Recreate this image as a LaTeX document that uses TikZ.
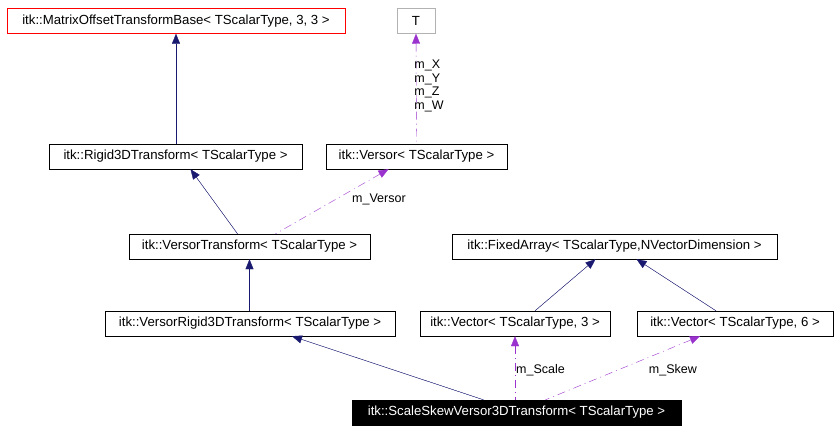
\documentclass[tikz,border=0pt]{standalone}
\usepackage{fontspec}
\setmainfont{Liberation Sans}
\usetikzlibrary{arrows.meta,positioning}
\definecolor{inhblue}{HTML}{191970}
\definecolor{usepurple}{HTML}{9A32CD}
\tikzset{
  cls/.style={draw=black, fill=white, inner sep=0pt, minimum height=25pt, font=\fontsize{13.2}{15}\selectfont},
  inh/.style={<-, >={Triangle[width=8pt,length=10pt]}, draw=inhblue, fill=inhblue, thin},
  use/.style={<-, >={Triangle[width=8pt,length=10pt]}, draw=usepurple, dash pattern=on 8pt off 4pt on 1pt off 4pt, thin},
  lbl/.style={font=\fontsize{12.5}{13.5}\selectfont, inner sep=1pt}
}
\begin{document}
\begin{tikzpicture}[x=1pt,y=-1pt]
    \useasboundingbox (0,0) rectangle (840,434);

    \node[cls, draw=red, minimum width=338pt] (base) at (176,21) {itk::MatrixOffsetTransformBase< TScalarType, 3, 3 >};
    \node[cls, draw=gray!60, minimum width=38pt] (t) at (416,21) {T};
    \node[cls, minimum width=253pt] (rigid) at (175.5,156.5) {itk::Rigid3DTransform< TScalarType >};
    \node[cls, minimum width=181pt] (versor) at (416.5,156.5) {itk::Versor< TScalarType >};
    \node[cls, minimum width=241pt] (vtrans) at (249.5,246.5) {itk::VersorTransform< TScalarType >};
    \node[cls, minimum width=325pt] (farray) at (614.5,246.5) {itk::FixedArray< TScalarType,NVectorDimension >};
    \node[cls, minimum width=290pt] (vrigid) at (250,323.5) {itk::VersorRigid3DTransform< TScalarType >};
    \node[cls, minimum width=190pt] (vec3) at (515,323.5) {itk::Vector< TScalarType, 3 >};
    \node[cls, minimum width=196pt] (vec6) at (735,323.5) {itk::Vector< TScalarType, 6 >};
    \node[cls, fill=black, text=white, minimum width=329pt] (skew) at (516.5,412.5) {itk::ScaleSkewVersor3DTransform< TScalarType >};

    % inheritance
    \draw[inh] (base.south) -- (rigid.north -| base.south);
    \draw[inh] ([xshift=15pt]rigid.south) -- ([xshift=-12pt]vtrans.north);
    \draw[inh] (vtrans.south) -- (vrigid.north -| vtrans.south);
    \draw[inh] ([xshift=-19pt]farray.south) -- ([xshift=20pt]vec3.north);
    \draw[inh] ([xshift=22pt]farray.south) -- ([xshift=-19pt]vec6.north);
    \draw[inh] ([xshift=42pt]vrigid.south) -- ([xshift=-33pt]skew.north);

    % usage
    \draw[use] (t.south) -- node[lbl, right, align=left, xshift=-3pt, yshift=3pt] {m\_X\\m\_Y\\m\_Z\\m\_W} (versor.north);
    \draw[use] ([xshift=-28pt]versor.south) -- node[lbl, pos=0.5, right, xshift=19pt, yshift=2pt] {m\_Versor} ([xshift=26pt]vtrans.north);
    \draw[use] (vec3.south) -- node[lbl, right, yshift=-2pt] {m\_Scale} (skew.north -| vec3.south);
    \draw[use] ([xshift=-35pt]vec6.south) -- node[lbl, pos=0.5, right, xshift=25pt, yshift=-2pt] {m\_Skew} ([xshift=29pt]skew.north);
\end{tikzpicture}
\end{document}
